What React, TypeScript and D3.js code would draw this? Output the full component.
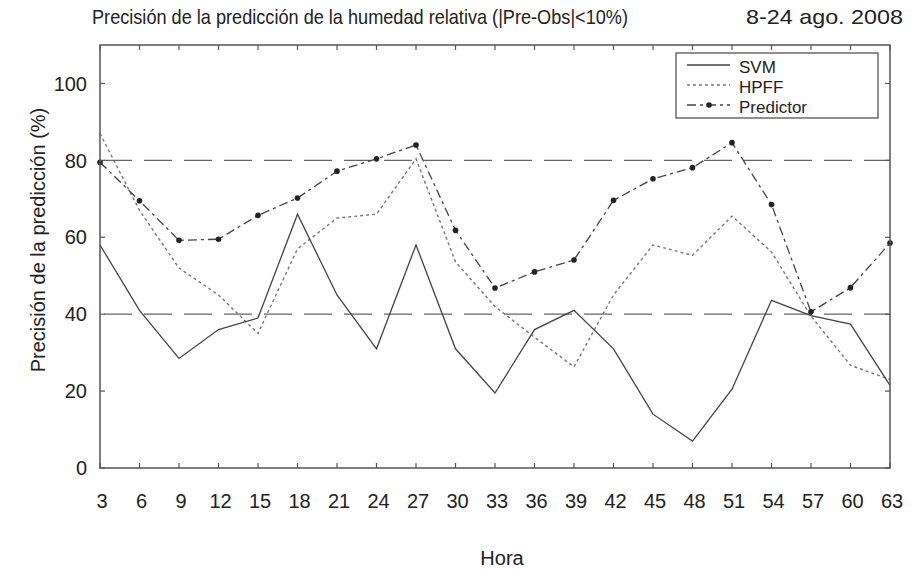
import React from "react";
import * as d3 from "d3";

const hours = [3, 6, 9, 12, 15, 18, 21, 24, 27, 30, 33, 36, 39, 42, 45, 48, 51, 54, 57, 60, 63];
const svm = [58, 41, 28.5, 36, 39, 66, 45, 31, 58, 31, 19.5, 36, 41, 31, 14, 7, 20.5, 43.6, 39.6, 37.4, 21.5];
const hpff = [87, 67, 52, 45, 35, 57, 65, 66, 80.4, 53.6, 42, 34, 26.3, 45, 58, 55.3, 65.5, 56.2, 39.5, 26.7, 23];
const predictor = [79.5, 69.5, 59.2, 59.5, 65.7, 70.2, 77.2, 80.4, 84, 61.8, 46.8, 51, 54.1, 69.6, 75.2, 78.1, 84.6, 68.5, 40.6, 46.9, 58.5];
const yTicks = [0, 20, 40, 60, 80, 100];
const refLines = [80, 40];
const legendLabels = ["SVM", "HPFF", "Predictor"];
const title = "Precisión de la predicción de la humedad relativa (|Pre-Obs|<10%)";
const titleRight = "8-24 ago. 2008";
const yLabel = "Precisión de la predicción (%)";
const xLabel = "Hora";

const W = 922, H = 571;
const L = 100, R = 890, T = 45, B = 468;
const font = "'Liberation Sans', Arial, Helvetica, sans-serif";

export default function App() {
  const x = d3.scaleLinear().domain([3, 63]).range([L, R]);
  const y = d3.scaleLinear().domain([0, 110]).range([B, T]);
  const line = d3.line<number>().x((_, i) => x(hours[i])).y((d) => y(d));
  const tick = 5;
  const lg = { x: 676, y: 53, w: 202, h: 65 };
  const legendStyles = [
    { stroke: "#444", dash: undefined as string | undefined, w: 1.3 },
    { stroke: "#777", dash: "3,3", w: 1.3 },
    { stroke: "#444", dash: "9,4,3,4", w: 1.3 },
  ];
  return (
    <svg width={W} height={H} style={{ position: "absolute", left: 0, top: 0, background: "#fff" }}>
      <rect x={0} y={0} width={W} height={H} fill="#fff" />
      {/* title */}
      <text x={92} y={24} fontFamily={font} fontSize={21} fill="#222" textLength={536} lengthAdjust="spacingAndGlyphs">{title}</text>
      <text x={746} y={24} fontFamily={font} fontSize={21} fill="#222" textLength={157} lengthAdjust="spacingAndGlyphs">{titleRight}</text>
      {/* reference lines */}
      {refLines.map((v) => (
        <line key={v} x1={L} x2={R} y1={y(v)} y2={y(v)} stroke="#666" strokeWidth={1.3} strokeDasharray="28,12" strokeDashoffset={-4} />
      ))}
      {/* series */}
      <path d={line(hpff) || ""} fill="none" stroke="#777" strokeWidth={1.4} strokeDasharray="3,3" />
      <path d={line(svm) || ""} fill="none" stroke="#444" strokeWidth={1.3} />
      <path d={line(predictor) || ""} fill="none" stroke="#444" strokeWidth={1.3} strokeDasharray="9,4,3,4" />
      {predictor.map((v, i) => (
        <circle key={i} cx={x(hours[i])} cy={y(v)} r={2.8} fill="#222" />
      ))}
      {/* axes box */}
      <rect x={L} y={T} width={R - L} height={B - T} fill="none" stroke="#555" strokeWidth={1.5} />
      {hours.map((h) => (
        <g key={h}>
          <line x1={x(h)} x2={x(h)} y1={B} y2={B - tick} stroke="#555" strokeWidth={1.2} />
          <line x1={x(h)} x2={x(h)} y1={T} y2={T + tick} stroke="#555" strokeWidth={1.2} />
          <text x={x(h) + 2} y={508} textAnchor="middle" fontFamily={font} fontSize={20} fill="#222">{h}</text>
        </g>
      ))}
      {yTicks.map((v) => (
        <g key={v}>
          <line x1={L} x2={L + tick} y1={y(v)} y2={y(v)} stroke="#555" strokeWidth={1.2} />
          <line x1={R} x2={R - tick} y1={y(v)} y2={y(v)} stroke="#555" strokeWidth={1.2} />
          <text x={87} y={y(v)} dy="0.36em" textAnchor="end" fontFamily={font} fontSize={20} fill="#222">{v}</text>
        </g>
      ))}
      {/* legend */}
      <rect x={lg.x} y={lg.y} width={lg.w} height={lg.h} fill="#fff" stroke="#555" strokeWidth={1.3} />
      {legendLabels.map((lab, i) => {
        const cy = 65 + i * 20;
        const s = legendStyles[i];
        return (
          <g key={lab}>
            <line x1={687} x2={730} y1={cy} y2={cy} stroke={s.stroke} strokeWidth={s.w} strokeDasharray={s.dash} />
            {i === 2 && <circle cx={709} cy={cy} r={2.8} fill="#222" />}
            <text x={739} y={cy + 8} fontFamily={font} fontSize={17} fill="#222">{lab}</text>
          </g>
        );
      })}
      {/* axis labels */}
      <text transform={`translate(45,240) rotate(-90)`} textAnchor="middle" fontFamily={font} fontSize={20} fill="#222">{yLabel}</text>
      <text x={502} y={565} textAnchor="middle" fontFamily={font} fontSize={20} fill="#222">{xLabel}</text>
    </svg>
  );
}
